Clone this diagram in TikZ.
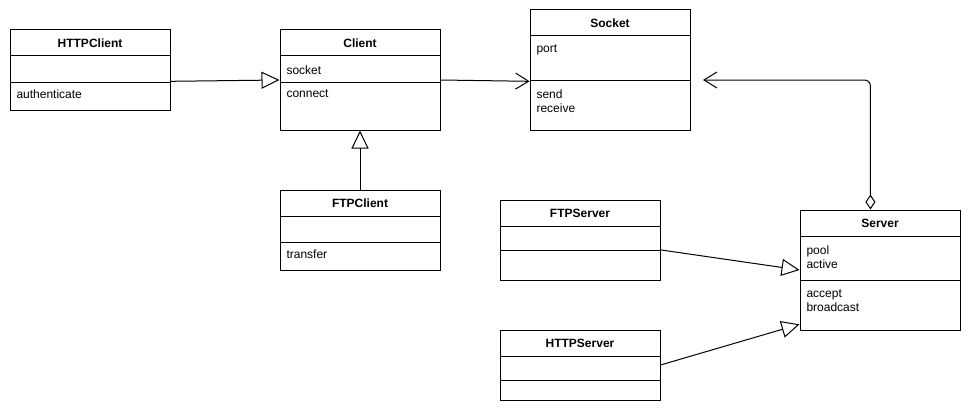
\documentclass[tikz,border=0pt]{standalone}
\usepackage{fontspec}
\setmainfont{Liberation Sans}
\usetikzlibrary{arrows.meta}

\begin{document}
\begin{tikzpicture}[x=1pt, y=-1pt, line width=1pt, font=\fontsize{12}{14}\selectfont]
  \tikzstyle{classbox}=[draw, rectangle, minimum width=160pt, inner sep=0pt]
  \tikzstyle{title}=[font=\fontsize{12}{14}\selectfont\bfseries, inner sep=0pt]
  \tikzstyle{member}=[anchor=west, inner sep=0pt, align=left]
  \tikzstyle{inherit}=[-{Triangle[open, length=18pt, width=17pt]}]
  \tikzstyle{assoc}=[-{Straight Barb[length=13pt, width=16pt]}]
  \tikzstyle{aggr}=[{Diamond[open, length=15pt, width=10pt]}-{Straight Barb[length=13pt, width=16pt]}]

  \useasboundingbox (0,0) rectangle (971,412);

	% clients
	\node[classbox, minimum height=80pt]  (HTTPClient) at (90,70) {};
	\node[title] (HTTPClientT) at (90,43.5) {HTTPClient};
	\draw (10,56) -- (170,56) (10,82) -- (170,82);
	\node[member] (HTTPClientO) at (16,94) {authenticate};

	\node[classbox, minimum height=100pt] (Client) at (360,80) {};
	\node[title] (ClientT) at (360,43.5) {Client};
	\draw (280,56) -- (440,56) (280,82) -- (440,82);
	\node[member] (ClientA) at (286,70) {socket};
	\node[member] (ClientO) at (286,94) {connect};

	\node[classbox, minimum height=80pt]  (FTPClient) at (360,230) {};
	\node[title] (FTPClientT) at (360,203.5) {FTPClient};
	\draw (280,216) -- (440,216) (280,242) -- (440,242);
	\node[member] (FTPClientO) at (286,254) {transfer};

	% socket
	\node[classbox, minimum height=120pt] (Socket) at (610,70) {};
	\node[title] (SocketT) at (610,23.5) {Socket};
	\draw (530,36) -- (690,36) (530,80) -- (690,80);
	\node[member] (SocketA) at (536,50) {port};
	\node[member] (SocketO) at (536,101) {send\\receive};

	% servers
	\node[classbox, minimum height=80pt]  (FTPServer) at (580,240) {};
	\node[title] (FTPServerT) at (580,213.5) {FTPServer};
	\draw (500,226) -- (660,226) (500,250) -- (660,250);

	\node[classbox, minimum height=70pt]  (HTTPServer) at (580,365) {};
	\node[title] (HTTPServerT) at (580,343.5) {HTTPServer};
	\draw (500,356) -- (660,356) (500,380) -- (660,380);

	\node[classbox, minimum height=120pt] (Server) at (880,270) {};
	\node[title] (ServerT) at (880,223.5) {Server};
	\draw (800,236) -- (960,236) (800,280) -- (960,280);
	\node[member] (ServerA) at (806,257) {pool\\active};
	\node[member] (ServerO) at (806,301) {accept\\broadcast};

	\coordinate (SocketIn) at (703,80);

	\path
		(HTTPClient.-8) edge [inherit] (Client.west)
		(FTPClient.north) edge [inherit] (Client.south)
		(Client.east) edge [assoc] (Socket.-172.9)
		(FTPServer.-7.1) edge [inherit] (Server.west)
		(HTTPServer.east) edge [inherit] (Server.-146.5)
		;
	\draw[aggr, rounded corners=6pt] (Server.99.5) |- (SocketIn);

\end{tikzpicture}
\end{document}
